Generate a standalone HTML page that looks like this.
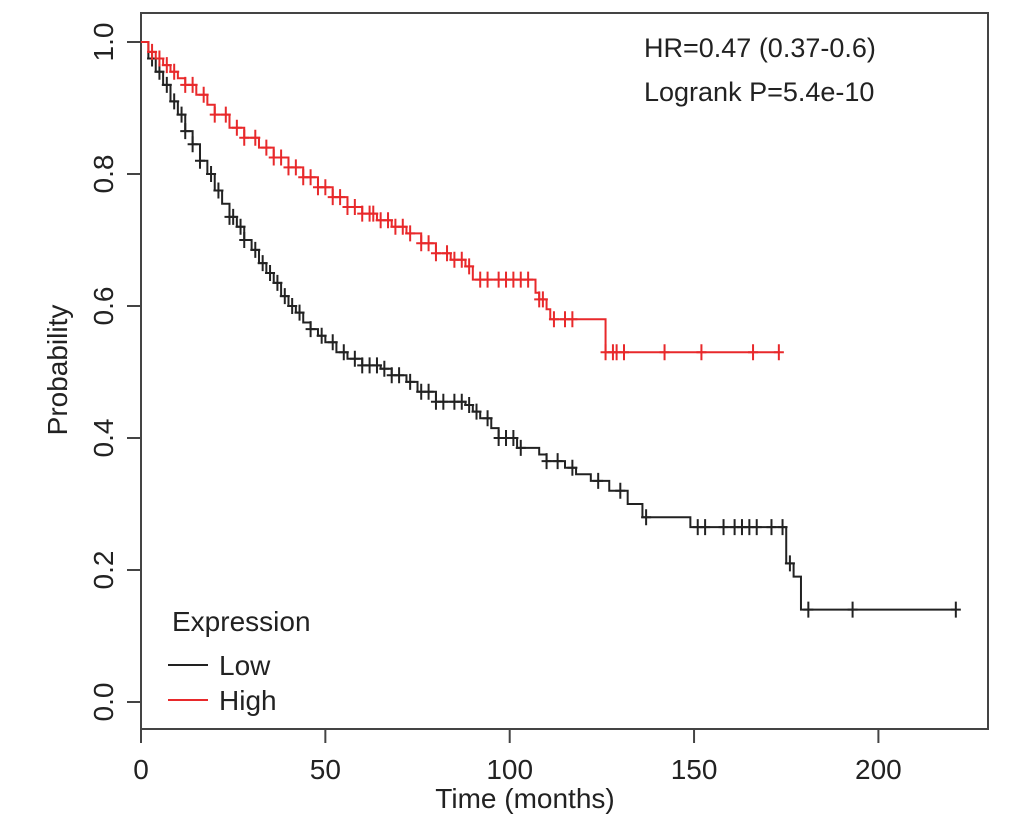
<!DOCTYPE html>
<html><head><meta charset="utf-8"><style>
body{margin:0;background:#fff}
svg{display:block;font-family:"Liberation Sans",sans-serif}
</style></head><body>
<svg id="c" width="1033" height="829"></svg>
<script>
const xTicks=[0,50,100,150,200];
const yTicks=[0.0,0.2,0.4,0.6,0.8,1.0];
const yTickLabels=["0.0","0.2","0.4","0.6","0.8","1.0"];
const lowTimes=[0,2,4,6,8,10,12,14,16,18,20,22,24,26,28,30,32,34,36,38,40,42,44,46,48,50,53,56,60,65,68,72,75,80,88,90,92,95,97,102,108,110,115,118,122,127,132,136,149,175,177,179,221];
const lowSurv=[1.0,0.975,0.955,0.935,0.91,0.89,0.865,0.845,0.82,0.8,0.775,0.755,0.735,0.72,0.7,0.685,0.665,0.65,0.635,0.615,0.6,0.59,0.575,0.565,0.555,0.545,0.53,0.52,0.51,0.505,0.495,0.485,0.47,0.455,0.45,0.44,0.43,0.415,0.4,0.385,0.375,0.365,0.355,0.345,0.335,0.32,0.3,0.28,0.265,0.21,0.19,0.14,0.14];
const lowCensor=[3,5,7,9,11,12,14,16,19,21,24,25,27,28,31,33,35,37,39,41,43,46,49,52,55,58,60,62,64,66,68,70,73,76,78,80,82,85,87,89,91,94,97,99,101,103,110,113,117,124,130,137,151,153,158,161,163,165,167,171,174,176,181,193,221];
const highTimes=[0,2,4,6,8,10,12,15,18,20,24,28,32,36,40,44,48,52,56,60,64,68,72,76,80,84,88,90,107,108,110,111,125,126,173];
const highSurv=[1.0,0.985,0.975,0.965,0.955,0.945,0.935,0.92,0.905,0.89,0.87,0.855,0.84,0.825,0.81,0.795,0.78,0.765,0.75,0.74,0.73,0.72,0.71,0.695,0.68,0.67,0.66,0.64,0.62,0.61,0.595,0.58,0.58,0.53,0.53];
const highCensor=[3,5,7,9,12,14,17,20,23,26,28,31,34,36,38,40,42,44,46,48,50,52,54,56,58,60,62,63,65,67,69,71,73,76,78,80,83,85,87,89,92,94,97,99,101,103,105,108,109,112,115,117,126,128,129,131,142,152,166,173];
const NS="http://www.w3.org/2000/svg";
const svg=document.getElementById('c');
const X=t=>141+t*3.687, Y=s=>702-s*660;
function mk(tag,attrs,parent){const e=document.createElementNS(NS,tag);for(const k in attrs)e.setAttribute(k,attrs[k]);(parent||svg).appendChild(e);return e;}
function stepAt(ts,ss,t){let s=ss[0];for(let i=0;i<ts.length;i++){if(ts[i]<=t)s=ss[i];}return s;}
const box=mk('rect',{x:141,y:13,width:847,height:716,fill:'none',stroke:'#444','stroke-width':2});


xTicks.forEach(v=>{
 const l=mk('line',{x1:X(v),x2:X(v),y1:729,y2:743,stroke:'#444','stroke-width':2});
 
 
 const t=mk('text',{x:X(v),y:779,'text-anchor':'middle','font-size':28,fill:'#222'});t.textContent=v;
 
 
});
yTicks.forEach((v,i)=>{
 const l=mk('line',{x1:127,x2:141,y1:Y(v),y2:Y(v),stroke:'#444','stroke-width':2});
 
 
 const t=mk('text',{x:0,y:0,'text-anchor':'middle','font-size':28,fill:'#222',transform:`translate(113,${Y(v)}) rotate(-90)`});t.textContent=yTickLabels[i];
 
 
});
const xt=mk('text',{x:525,y:808,'text-anchor':'middle','font-size':28,fill:'#222'});xt.textContent='Time (months)';


const yt=mk('text',{x:0,y:0,'text-anchor':'middle','font-size':28,fill:'#222',transform:'translate(67,370) rotate(-90)'});yt.textContent='Probability';


function curve(ts,ss,cens,color,name){
 let d=`M${X(ts[0])},${Y(ss[0])}`;
 for(let i=1;i<ts.length;i++){d+=` H${X(ts[i])} V${Y(ss[i])}`;}
 const p=mk('path',{d,fill:'none',stroke:color,'stroke-width':2});
 
 
 cens.forEach(t=>{
  const s=stepAt(ts,ss,t);
  const c=mk('path',{d:`M${X(t)},${Y(s)-8}V${Y(s)+8}M${X(t)-5},${Y(s)}H${X(t)+5}`,stroke:color,'stroke-width':2});
  
  
 });
}
curve(lowTimes,lowSurv,lowCensor,'#222','low');
curve(highTimes,highSurv,highCensor,'#e8292b','high');
const h1=mk('text',{x:644,y:57,'font-size':27,fill:'#222'});h1.textContent='HR=0.47 (0.37-0.6)';


const h2=mk('text',{x:644,y:101,'font-size':27,fill:'#222'});h2.textContent='Logrank P=5.4e-10';


const lg=mk('g',{});


const lt=mk('text',{x:172,y:631,'font-size':28,fill:'#222'},lg);lt.textContent='Expression';


[['Low','#222',665],['High','#e8292b',700]].forEach(([n,c,y])=>{
 const l=mk('line',{x1:168,x2:208,y1:y,y2:y,stroke:c,'stroke-width':2},lg);
 
 
 const t=mk('text',{x:219,y:y+10,'font-size':28,fill:'#222'},lg);t.textContent=n;
 
 
});
</script>
</body></html>
